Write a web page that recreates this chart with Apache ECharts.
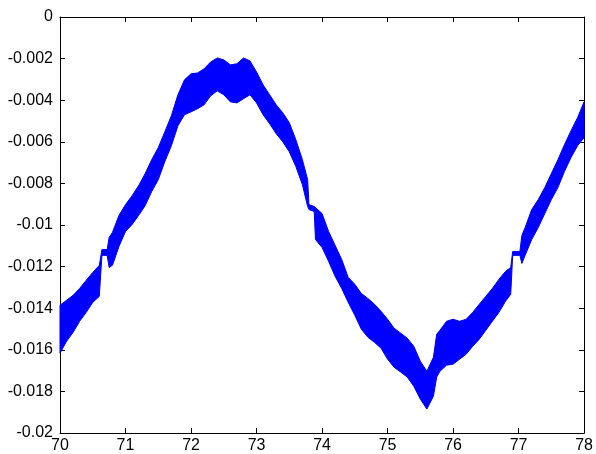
<!DOCTYPE html>
<html>
<head>
<meta charset="utf-8">
<script src="https://cdn.jsdelivr.net/npm/echarts@6/dist/echarts.min.js"></script>
<style>
html,body{margin:0;padding:0;background:#fff;}
#chart{width:596px;height:454px;}
</style>
</head>
<body>
<div id="chart"></div>
<script>
// Sample positions (x)
var xs = [70.0,70.1,70.2,70.3,70.4,70.5,70.6,70.64,70.72,70.75,70.8,70.9,
71.0,71.1,71.2,71.3,71.4,71.5,71.6,71.7,71.8,71.9,
72.0,72.1,72.2,72.3,72.4,72.5,72.6,72.7,72.8,72.9,
73.0,73.1,73.2,73.3,73.4,73.5,73.6,73.7,73.78,73.8,73.88,73.9,
74.0,74.1,74.2,74.3,74.4,74.5,74.6,74.7,74.8,74.9,
75.0,75.1,75.2,75.3,75.4,75.5,75.6,75.7,75.75,75.8,75.9,
76.0,76.1,76.2,76.3,76.4,76.5,76.6,76.7,76.8,76.88,76.91,77.02,77.05,
77.1,77.2,77.3,77.4,77.5,77.6,77.7,77.8,77.9,78.0];
// Upper envelope of the oscillating signal
var upper = [-0.01386,-0.01362,-0.01338,-0.01305,-0.01266,-0.01228,-0.01194,-0.01118,-0.01118,-0.01060,-0.01036,-0.00954,
-0.00902,-0.00859,-0.00811,-0.00753,-0.00686,-0.00628,-0.00552,-0.00475,-0.00374,-0.00302,
-0.00273,-0.00269,-0.00249,-0.00216,-0.00197,-0.00206,-0.00230,-0.00225,-0.00197,-0.00211,
-0.00264,-0.00326,-0.00374,-0.00422,-0.00460,-0.00508,-0.00590,-0.00686,-0.00782,-0.00902,-0.00911,-0.00916,
-0.00945,-0.01031,-0.01098,-0.01166,-0.01252,-0.01285,-0.01329,-0.01353,-0.01381,-0.01415,
-0.01453,-0.01496,-0.01520,-0.01544,-0.01583,-0.01655,-0.01703,-0.01636,-0.01525,-0.01506,-0.01463,
-0.01453,-0.01463,-0.01453,-0.01420,-0.01381,-0.01343,-0.01305,-0.01261,-0.01223,-0.01204,-0.01127,-0.01127,-0.01050,
-0.01012,-0.00926,-0.00878,-0.00820,-0.00753,-0.00686,-0.00614,-0.00547,-0.00484,-0.00408];
// Lower envelope of the oscillating signal
var lower = [-0.01616,-0.01559,-0.01516,-0.01463,-0.01420,-0.01372,-0.01343,-0.01146,-0.01146,-0.01204,-0.01194,-0.01103,
-0.01031,-0.00998,-0.00954,-0.00907,-0.00839,-0.00782,-0.00695,-0.00619,-0.00523,-0.00470,
-0.00456,-0.00441,-0.00422,-0.00379,-0.00355,-0.00374,-0.00408,-0.00413,-0.00393,-0.00374,
-0.00413,-0.00470,-0.00513,-0.00561,-0.00600,-0.00648,-0.00719,-0.00806,-0.00911,-0.00926,-0.00935,-0.01070,
-0.01108,-0.01175,-0.01247,-0.01305,-0.01372,-0.01434,-0.01501,-0.01540,-0.01564,-0.01592,
-0.01645,-0.01684,-0.01707,-0.01731,-0.01775,-0.01837,-0.01885,-0.01823,-0.01731,-0.01703,-0.01674,
-0.01669,-0.01645,-0.01621,-0.01583,-0.01549,-0.01506,-0.01463,-0.01420,-0.01367,-0.01333,-0.01146,-0.01146,-0.01185,
-0.01146,-0.01070,-0.01012,-0.00945,-0.00878,-0.00820,-0.00743,-0.00676,-0.00619,-0.00580];

var xTickLabels = ['70','71','72','73','74','75','76','77','78'];
var yTickValues = [0,-0.002,-0.004,-0.006,-0.008,-0.01,-0.012,-0.014,-0.016,-0.018,-0.02];
var yTickLabels = ['0','-0.002','-0.004','-0.006','-0.008','-0.01','-0.012','-0.014','-0.016','-0.018','-0.02'];

function yFmt(v){
  for (var i=0;i<yTickValues.length;i++){ if (Math.abs(yTickValues[i]-v)<1e-9) return yTickLabels[i]; }
  return '';
}
function xFmt(v){
  var i = Math.round(v-70);
  return xTickLabels[i] !== undefined ? xTickLabels[i] : '';
}

var chart = echarts.init(document.getElementById('chart'), null, {renderer:'canvas'});
var font = {fontFamily:'Liberation Sans, Arial, sans-serif', fontSize:16, color:'#000'};
var axisLine = {show:true, onZero:false, lineStyle:{color:'#000', width:1}};
var tick = {show:true, inside:true, length:5, lineStyle:{color:'#000'}};

var bandData = xs.map(function(x,i){ return [x, upper[i], lower[i]]; });

chart.setOption({
  animation:false,
  backgroundColor:'#fff',
  grid:{left:60, right:8, top:17, bottom:20, containLabel:false},
  xAxis:[
    {type:'value', min:70, max:78, interval:1, position:'bottom',
     axisLine:axisLine, axisTick:tick, splitLine:{show:false},
     axisLabel:Object.assign({margin:5, formatter:xFmt}, font)},
    {type:'value', min:70, max:78, interval:1, position:'top',
     axisLine:axisLine, axisTick:tick, splitLine:{show:false}, axisLabel:{show:false}}
  ],
  yAxis:[
    {type:'value', min:-0.02, max:0, interval:0.002, position:'left',
     axisLine:axisLine, axisTick:tick, splitLine:{show:false},
     axisLabel:Object.assign({margin:7, formatter:yFmt}, font)},
    {type:'value', min:-0.02, max:0, interval:0.002, position:'right',
     axisLine:axisLine, axisTick:tick, splitLine:{show:false}, axisLabel:{show:false}}
  ],
  series:[{
    type:'custom',
    xAxisIndex:0, yAxisIndex:0,
    data:bandData,
    encode:{x:0, y:[1,2]},
    renderItem:function(params, api){
      if (params.dataIndex !== 0) return null;
      var pts = [];
      for (var i=0;i<bandData.length;i++) pts.push(api.coord([bandData[i][0], bandData[i][1]]));
      for (var j=bandData.length-1;j>=0;j--) pts.push(api.coord([bandData[j][0], bandData[j][2]]));
      return {type:'polygon', shape:{points:pts}, style:{fill:'#0000ff', stroke:'#0000ff', lineWidth:1}};
    }
  }]
});
</script>
</body>
</html>
